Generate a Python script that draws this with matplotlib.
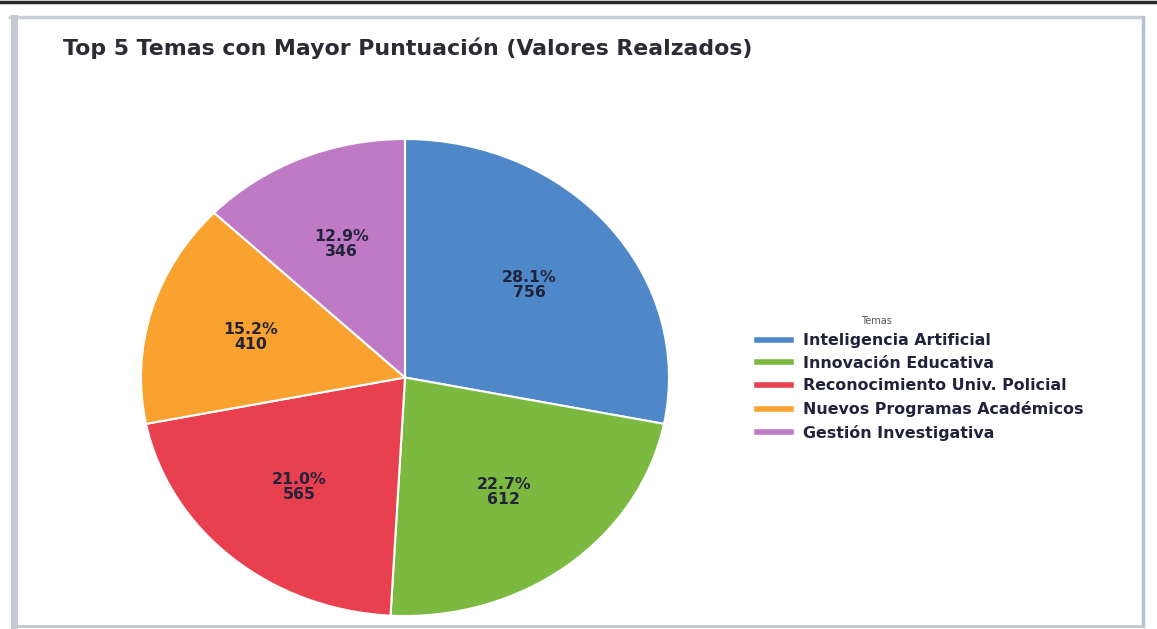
import matplotlib
matplotlib.use("Agg")
import matplotlib.pyplot as plt
from matplotlib.lines import Line2D
import numpy as np

# ---- data ----
temas = ["Inteligencia Artificial", "Innovación Educativa",
         "Reconocimiento Univ. Policial", "Nuevos Programas Académicos",
         "Gestión Investigativa"]
valores = [756, 612, 565, 410, 346]
porcentajes = ["28.1%", "22.7%", "21.0%", "15.2%", "12.9%"]
colores = ["#4f88c8", "#7cb940", "#e8404e", "#f9a22f", "#bf7ac6"]

titulo = "Top 5 Temas con Mayor Puntuación (Valores Realzados)"
leyenda_titulo = "Temas"

W, H = 1157, 629
fig = plt.figure(figsize=(W / 100, H / 100), dpi=100)
fig.patch.set_facecolor("white")

# card frame / scan borders
fig.add_artist(Line2D([0, 1], [1 - 2 / H, 1 - 2 / H], transform=fig.transFigure,
                      color="#2a2a2a", lw=2.5))
fig.add_artist(Line2D([10 / W, 1143 / W], [1 - 17 / H, 1 - 17 / H], transform=fig.transFigure,
                      color="#c9ced6", lw=2.5))
fig.add_artist(Line2D([14 / W, 14 / W], [3 / H, 1 - 18 / H], transform=fig.transFigure,
                      color="#c3cad6", lw=5))
fig.add_artist(Line2D([1143 / W, 1143 / W], [3 / H, 1 - 18 / H], transform=fig.transFigure,
                      color="#b8c0cc", lw=2.5))
fig.add_artist(Line2D([14 / W, 1143 / W], [3 / H, 3 / H], transform=fig.transFigure,
                      color="#c3c8d0", lw=2))

fig.text(63 / W, 1 - 48 / H, titulo, fontsize=15.8, fontweight="bold",
         color="#2b2b33", ha="left", va="center", family="DejaVu Sans")

# pie axes (slightly stretched horizontally as in the reference)
left, right, top, bottom = 141, 669, 139, 616
ax = fig.add_axes([left / W, 1 - bottom / H, (right - left) / W, (bottom - top) / H])
wedges, _ = ax.pie(valores, colors=colores, startangle=90, counterclock=False,
                   wedgeprops=dict(edgecolor="white", linewidth=1.5))
ax.set_aspect("auto")
ax.set_xlim(-1, 1)
ax.set_ylim(-1, 1)
ax.axis("off")

for w, pct, v in zip(wedges, porcentajes, valores):
    ang = np.deg2rad((w.theta1 + w.theta2) / 2)
    r = 0.61
    ax.text(r * np.cos(ang), r * np.sin(ang), f"{pct}\n{v}", ha="center", va="center",
            fontsize=11.3, fontweight="bold", color="#22223a", linespacing=1.0)

handles = [Line2D([0], [0], color=c, lw=4) for c in colores]
leg = fig.legend(handles, temas, loc="upper left",
                 bbox_to_anchor=(743 / W, 1 - 319 / H), frameon=False,
                 prop=dict(size=11.4, weight="bold"),
                 handlelength=2.1, handletextpad=0.8, labelspacing=0.48)
for t in leg.get_texts():
    t.set_color("#22223a")
fig.text(876 / W, 1 - 321 / H, leyenda_titulo, fontsize=7, color="#555555",
         ha="center", va="center")

fig.savefig("out.png", dpi=100, facecolor="white")
